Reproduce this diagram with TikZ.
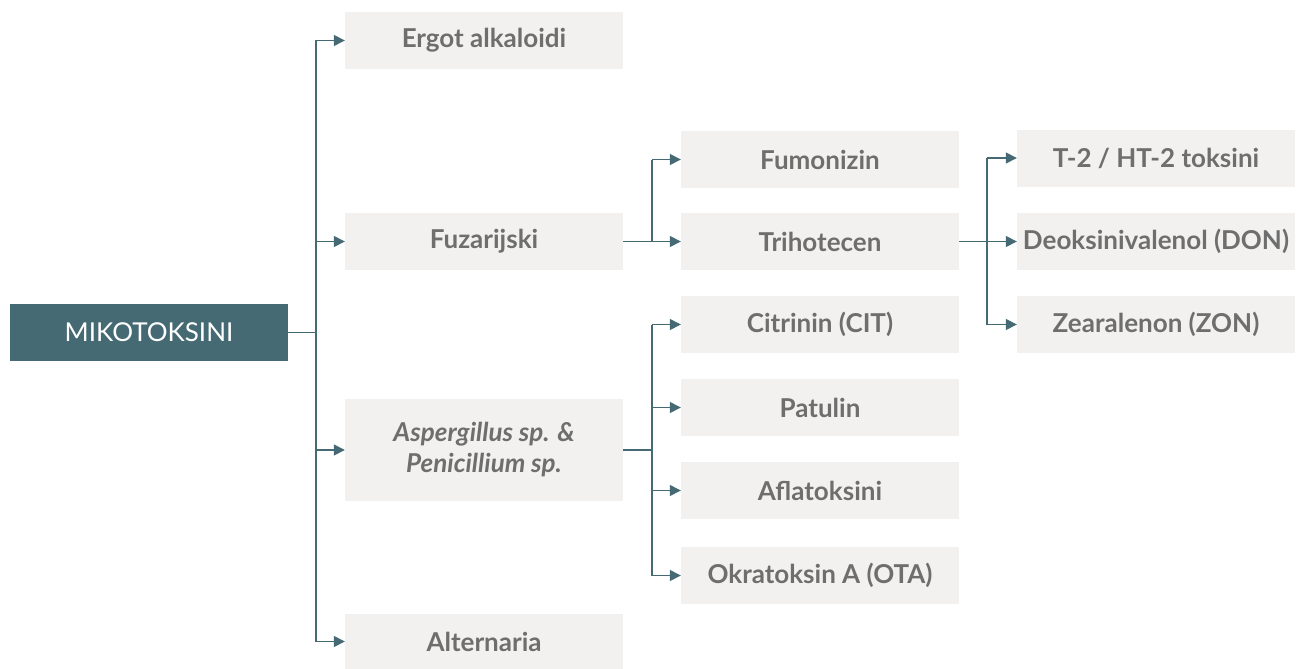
\documentclass[tikz,border=0pt]{standalone}
\usepackage{fontspec}
\setmainfont{Lato}
\usetikzlibrary{arrows.meta}
\definecolor{teal}{HTML}{456A73}
\definecolor{boxfill}{HTML}{F2F1F0}
\definecolor{txt}{HTML}{6E6E6E}
\begin{document}
\begin{tikzpicture}[x=1pt,y=-1pt,
  catbox/.style={fill=boxfill,draw=none,minimum width=278pt,minimum height=57pt,inner sep=0pt,
    font=\fontsize{26}{31}\selectfont\bfseries,text=txt,align=center},
  rootbox/.style={fill=teal,draw=none,minimum width=278pt,minimum height=57pt,inner sep=0pt,
    font=\fontsize{26}{31}\selectfont,text=white},
  conn/.style={draw=teal,line width=1.4pt},
  arr/.style={conn,-{Triangle[length=11pt,width=11pt]}}]
\useasboundingbox (0,0) rectangle (1301,669);
\node[rootbox] (root) at (149,332.5) {MIKOTOKSINI};
\node[catbox] (ergot) at (484,40.5) {Ergot alkaloidi};
\node[catbox] (fuz) at (484,241.5) {Fuzarijski};
\node[catbox,minimum height=102pt] (asp) at (484,450) {\itshape Aspergillus sp. \&\\\itshape Penicillium sp.};
\node[catbox,minimum height=55pt] (alt) at (484,641.5) {Alternaria};
\node[catbox] (fum) at (820,159.5) {Fumonizin};
\node[catbox] (tri) at (820,241.5) {Trihotecen};
\node[catbox] (cit) at (820,324.5) {Citrinin (CIT)};
\node[catbox] (pat) at (820,407.5) {Patulin};
\node[catbox] (afl) at (820,490.5) {Aflatoksini};
\node[catbox] (okr) at (820,575.5) {Okratoksin A (OTA)};
\node[catbox] (t2) at (1156,158) {T-2 / HT-2 toksini};
\node[catbox] (don) at (1156,241.5) {Deoksinivalenol (DON)};
\node[catbox] (zon) at (1156,324.5) {Zearalenon (ZON)};
\coordinate (j0) at (316,332.5);
\coordinate (j1) at (652,241.5);
\coordinate (j2) at (652,450);
\coordinate (j3) at (987,241.5);
\draw[conn] (root.east) -- (j0);
\draw[conn] (ergot.west -| j0) -- (alt.west -| j0);
\foreach \n in {ergot,fuz,asp,alt} \draw[arr] (\n.west -| j0) -- (\n.west);
\draw[conn] (fuz.east) -- (j1);
\draw[conn] (fum.west -| j1) -- (j1);
\foreach \n in {fum,tri} \draw[arr] (\n.west -| j1) -- (\n.west);
\draw[conn] (asp.east) -- (j2);
\draw[conn] (cit.west -| j2) -- (okr.west -| j2);
\foreach \n in {cit,pat,afl,okr} \draw[arr] (\n.west -| j2) -- (\n.west);
\draw[conn] (t2.west -| j3) -- (zon.west -| j3);
\draw[arr] (tri.east) -- (don.west);
\foreach \n in {t2,zon} \draw[arr] (\n.west -| j3) -- (\n.west);
\end{tikzpicture}
\end{document}
